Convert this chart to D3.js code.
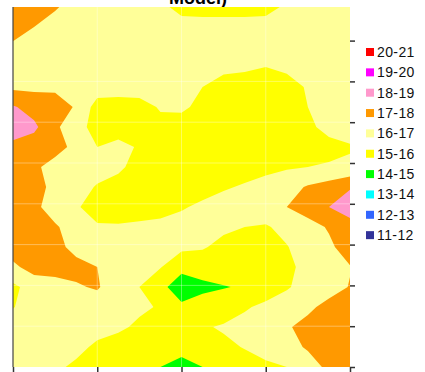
<!DOCTYPE html>
<html>
<head>
<meta charset="UTF-8">
<script src="https://d3js.org/d3.v7.min.js"></script>
<style>
  body { margin: 0; background: #fff; overflow: hidden; }
  svg { display: block; font-family: Arial, "Liberation Sans", sans-serif; }
</style>
</head>
<body>
<svg id="chart" width="425" height="372"></svg>
<script>
// value grid, top row first (17 columns x 19 rows)
const grid = [
  [17.6, 17.4, 17.1, 16.6, 16.5, 16.5, 16.4, 16.3, 15.6, 15.5, 15.5, 15.5, 15.6, 16.2, 16.4, 16.5, 16.5],
  [17.5, 17.0, 16.6, 16.5, 16.5, 16.5, 16.5, 16.5, 16.5, 16.5, 16.5, 16.5, 16.5, 16.5, 16.5, 16.5, 16.5],
  [16.8, 16.6, 16.5, 16.5, 16.5, 16.5, 16.5, 16.5, 16.5, 16.5, 16.5, 16.5, 16.4, 16.5, 16.5, 16.5, 16.5],
  [16.7, 16.7, 16.6, 16.6, 16.6, 16.5, 16.5, 16.5, 16.5, 16.4, 16.3, 16.2, 16.0, 16.2, 16.4, 16.5, 16.5],
  [16.8, 16.8, 16.8, 16.8, 16.5, 16.5, 16.5, 16.5, 16.4, 16.0, 15.5, 15.4, 15.4, 15.6, 16.1, 16.5, 16.6],
  [18.1, 17.6, 17.5, 16.9, 15.6, 15.5, 15.6, 16.1, 16.2, 15.7, 15.5, 15.4, 15.4, 15.5, 16.0, 16.5, 16.6],
  [18.8, 18.2, 17.2, 16.3, 15.7, 15.5, 15.5, 15.7, 15.5, 15.4, 15.4, 15.4, 15.4, 15.5, 15.8, 16.3, 16.5],
  [17.6, 17.5, 17.4, 16.7, 16.0, 16.3, 15.9, 15.5, 15.4, 15.4, 15.4, 15.4, 15.4, 15.5, 15.6, 15.7, 15.9],
  [17.5, 17.2, 16.6, 16.5, 16.5, 16.2, 15.6, 15.5, 15.4, 15.5, 15.5, 15.6, 15.7, 15.9, 16.0, 16.1, 16.2],
  [17.5, 17.4, 16.7, 16.5, 15.9, 15.6, 15.9, 15.6, 15.5, 15.6, 15.9, 16.1, 16.4, 16.6, 17.1, 17.4, 17.9],
  [17.5, 17.2, 16.6, 16.1, 15.6, 15.5, 15.5, 15.6, 15.9, 16.2, 16.4, 16.5, 16.6, 17.0, 17.5, 18.0, 18.6],
  [17.5, 17.4, 17.1, 16.6, 16.1, 16.1, 16.2, 16.3, 16.4, 16.3, 16.2, 16.0, 15.9, 16.3, 16.6, 17.1, 17.5],
  [17.5, 17.5, 17.3, 16.7, 16.5, 16.5, 16.5, 16.4, 16.2, 16.1, 15.7, 15.5, 15.6, 15.95, 16.5, 16.8, 17.5],
  [16.8, 17.4, 17.5, 17.3, 17.0, 16.6, 16.4, 16.05, 15.3, 15.4, 15.5, 15.5, 15.5, 15.7, 16.4, 16.7, 16.95],
  [15.8, 16.4, 16.5, 16.9, 17.1, 16.4, 16.0, 15.3, 14.4, 14.8, 14.95, 15.1, 15.5, 15.9, 16.4, 16.6, 17.05],
  [15.95, 16.5, 16.6, 16.6, 16.5, 16.4, 16.2, 15.9, 15.2, 15.4, 15.5, 15.9, 16.2, 16.5, 16.8, 17.3, 17.5],
  [16.5, 16.5, 16.6, 16.6, 16.4, 16.2, 15.8, 15.5, 15.4, 15.9, 16.1, 16.3, 16.5, 16.9, 17.3, 17.5, 17.5],
  [16.5, 16.5, 16.5, 16.3, 15.8, 15.5, 15.4, 15.4, 15.6, 15.5, 15.8, 16.05, 16.4, 16.7, 17.1, 17.5, 17.5],
  [16.5, 16.4, 16.2, 15.8, 15.5, 15.4, 15.3, 15.0, 14.4, 15.0, 15.4, 15.6, 15.8, 16.0, 16.6, 17.2, 17.5]
];

const thresholds = [11, 12, 13, 14, 15, 16, 17, 18, 19, 20];
const bandLabels = ["11-12", "12-13", "13-14", "14-15", "15-16", "16-17", "17-18", "18-19", "19-20", "20-21"];
const bandColors = ["#333399", "#3366FF", "#00FFFF", "#00FF00", "#FFFF00", "#FFFF99", "#FF9900", "#FF99CC", "#FF00FF", "#FF0000"];
const xTickCount = 5;
const yTickCount = 9;

const plot = { left: 13, right: 350, top: 7, bottom: 367 };
const nx = grid[0].length, ny = grid.length;

const svg = d3.select("#chart");

// title (only its lower part shows, as in the reference)
svg.append("text")
  .attr("x", 198).attr("y", 4)
  .attr("text-anchor", "middle")
  .attr("font-weight", "bold")
  .attr("font-size", 18)
  .text("Model)");

svg.append("defs").append("clipPath").attr("id", "plotclip")
  .append("rect")
  .attr("x", plot.left).attr("y", plot.top)
  .attr("width", plot.right - plot.left).attr("height", plot.bottom - plot.top);

// grid index -> pixel (d3.contours puts sample i at i + 0.5)
const gx = d3.scaleLinear().domain([0.5, nx - 0.5]).range([plot.left, plot.right]);
const gy = d3.scaleLinear().domain([0.5, ny - 0.5]).range([plot.top, plot.bottom]);
const path = d3.geoPath(d3.geoTransform({
  point(x, y) { this.stream.point(gx(x), gy(y)); }
}));

const contours = d3.contours().size([nx, ny]).thresholds(thresholds)(grid.flat());
const color = d3.scaleOrdinal().domain(thresholds).range(bandColors);

svg.append("g").attr("clip-path", "url(#plotclip)")
  .selectAll("path")
  .data(contours)
  .join("path")
  .attr("d", path)
  .attr("fill", d => color(d.value));

// faint gridlines
const xs = d3.scaleLinear().domain([0, xTickCount - 1]).range([plot.left, plot.right]);
const ys = d3.scaleLinear().domain([0, yTickCount - 1]).range([plot.bottom, 40.6]);
const gl = svg.append("g").attr("stroke", "#fff").attr("stroke-opacity", 0.35);
gl.selectAll("line.v").data(d3.range(1, xTickCount - 1)).join("line")
  .attr("x1", d => xs(d)).attr("x2", d => xs(d))
  .attr("y1", plot.top).attr("y2", plot.bottom);
gl.selectAll("line.h").data(d3.range(1, yTickCount - 1)).join("line")
  .attr("x1", plot.left).attr("x2", plot.right)
  .attr("y1", d => ys(d)).attr("y2", d => ys(d));

// left edge line
svg.append("line")
  .attr("x1", plot.left).attr("x2", plot.left)
  .attr("y1", plot.top).attr("y2", plot.bottom)
  .attr("stroke", "#444").attr("stroke-width", 1.2);

// bottom ticks
const xAxis = svg.append("g")
  .attr("transform", `translate(0,${plot.bottom})`)
  .call(d3.axisBottom(xs).ticks(xTickCount).tickSize(6).tickFormat(""));
xAxis.select(".domain").remove();
xAxis.selectAll("line").attr("stroke", "#333").attr("stroke-width", 1.5);

// right ticks
const yAxis = svg.append("g")
  .attr("transform", `translate(${plot.right},0)`)
  .call(d3.axisRight(ys).ticks(yTickCount).tickSize(5).tickFormat(""));
yAxis.select(".domain").remove();
yAxis.selectAll("line").attr("stroke", "#333").attr("stroke-width", 1.5);

// legend, highest band on top
const legend = svg.append("g");
const items = d3.range(thresholds.length).reverse();
const li = legend.selectAll("g").data(items).join("g")
  .attr("transform", (d, i) => `translate(366,${52 + i * 20.35})`);
li.append("rect")
  .attr("x", 0).attr("y", -4).attr("width", 8).attr("height", 8)
  .attr("fill", d => bandColors[d]);
li.append("text")
  .attr("x", 11).attr("y", 5)
  .attr("font-size", 14)
  .attr("letter-spacing", 0.4)
  .attr("fill", "#111")
  .text(d => bandLabels[d]);
</script>
</body>
</html>
